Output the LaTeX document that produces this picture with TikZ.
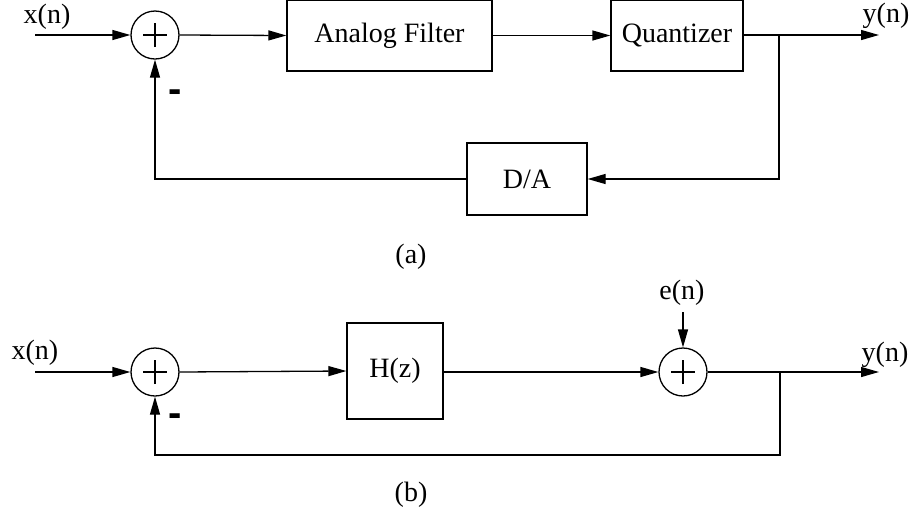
\documentclass[tikz,border=0pt]{standalone}
\usepackage{fontspec}
\setmainfont{Liberation Serif}
\newfontfamily\minusfont{Liberation Sans}
\usetikzlibrary{arrows.meta}
\begin{document}
\begin{tikzpicture}[x=1pt,y=-1pt,line width=1.3pt,
  >={Triangle[length=18pt,width=10pt]},
  every node/.style={font=\fontsize{28}{32}\selectfont},
  blockbox/.style={draw,rectangle,inner sep=0pt},
  sumnode/.style={draw,circle,minimum size=48pt,inner sep=0pt,
    path picture={\draw[line width=1.4pt] (path picture bounding box.center) +(-12pt,0) -- +(12pt,0)
      (path picture bounding box.center) +(0,-12pt) -- +(0,12pt);}},
  lbl/.style={inner sep=0pt},
  minuslbl/.style={inner sep=0pt,font=\minusfont\bfseries\fontsize{40}{42}\selectfont}]
\useasboundingbox (0,0) rectangle (915,515);
% ---------- (a) ----------
\coordinate (ain) at (35,35);
\node[sumnode] (s1) at (155,35) {};
\node[blockbox,minimum width=205pt,minimum height=71pt] (af) at (389.5,35.5) {Analog Filter};
\node[blockbox,minimum width=132pt,minimum height=71pt] (q) at (677,35.5) {Quantizer};
\coordinate (abr) at (779,35);
\coordinate (aout) at (879,35);
\node[blockbox,minimum width=120pt,minimum height=72pt] (da) at (527,179) {D/A};
\node[lbl] (xa) at (47,17) {x(n)};
\node[lbl] (ya) at (886,16) {y(n)};
\node[minuslbl] (ma) at (175,96) {-};
\node[lbl] (capa) at (411,257) {(a)};
\draw[->] (ain) -- (s1.west);
\draw[->] (s1.east) -- (af.west);
\draw[->] (af.east) -- (q.west);
\draw[->] (q.east |- abr) -- (aout);
\draw[->] (abr) |- (da.east);
\draw[->] (da.west) -| (s1.south);
% ---------- (b) ----------
\coordinate (bin) at (35,372);
\node[sumnode] (s2) at (155,372) {};
\node[blockbox,minimum width=96pt,minimum height=96pt] (h) at (395,371) {H(z)};
\node[sumnode] (s3) at (683,372) {};
\coordinate (bbr) at (780,372);
\coordinate (bout) at (879,372);
\coordinate (ein) at (683,312);
\coordinate (bfb) at (780,455);
\node[lbl] (xb) at (35,353) {x(n)};
\node[lbl] (yb) at (885,355) {y(n)};
\node[lbl] (en) at (682,293) {e(n)};
\node[minuslbl] (mb) at (175,420) {-};
\node[lbl] (capb) at (411,495) {(b)};
\draw[->] (bin) -- (s2.west);
\draw[->] (s2.east) -- (h.west);
\draw[->] (h.east |- s3) -- (s3.west);
\draw[->] (s3.east) -- (bout);
\draw[->] (ein) -- (s3.north);
\draw[->] (bbr) -- (bfb) -| (s2.south);
\end{tikzpicture}
\end{document}
